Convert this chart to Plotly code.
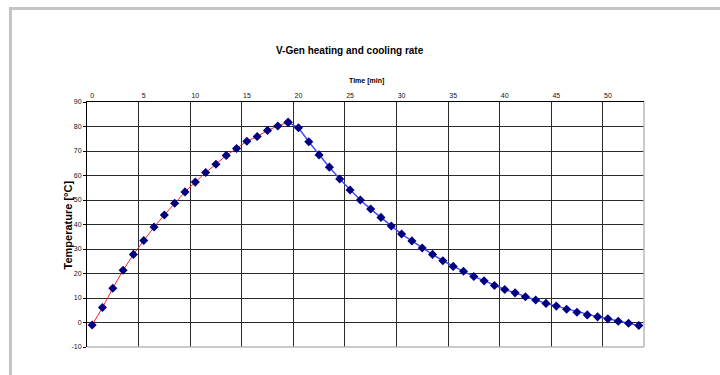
import plotly.graph_objects as go

# Sampling times [min]
heat_time = list(range(0, 20))
cool_time = list(range(19, 54))

# Measured temperatures [°C]
heat_temp = [-1.0, 6.1, 14.0, 21.3, 27.8, 33.5, 39.0, 43.9, 48.7, 53.3,
             57.3, 61.2, 64.6, 68.2, 71.0, 74.0, 75.9, 78.4, 80.2, 81.7]
cool_temp = [81.7, 79.5, 73.8, 68.4, 63.4, 58.6, 54.1, 50.0, 46.3, 42.9,
             39.4, 36.1, 33.3, 30.4, 27.8, 25.2, 22.9, 20.9, 18.8, 17.0,
             15.1, 13.5, 12.1, 10.5, 9.2, 7.8, 6.7, 5.4, 4.2, 3.1,
             2.3, 1.5, 0.5, -0.3, -1.2]

x_ticks = list(range(0, 51, 5))
x_bounds = [v - 0.5 for v in range(5, 51, 5)]
y_ticks = list(range(-10, 91, 10))

FONT = "Liberation Sans, Arial, sans-serif"
GRID = "#2a2a2a"
MARK = "#000080"
TICKFONT = dict(size=7, family=FONT, color="#111111")

fig = go.Figure()
fig.add_trace(go.Scatter(
    x=heat_time, y=heat_temp, mode="lines+markers",
    line=dict(color="#ff2020", width=1),
    marker=dict(symbol="diamond", size=7, color=MARK),
    showlegend=False, cliponaxis=False,
))
fig.add_trace(go.Scatter(
    x=cool_time, y=cool_temp, mode="lines+markers",
    line=dict(color="#4a4aff", width=1.5),
    marker=dict(symbol="diamond", size=7, color=MARK),
    showlegend=False, cliponaxis=False,
))

fig.update_layout(
    width=720, height=375,
    margin=dict(l=87, r=76, t=102, b=28),
    paper_bgcolor="white", plot_bgcolor="white",
    font=dict(family=FONT, color="#111111", size=7),
    xaxis=dict(
        side="top", range=[-0.5, 53.5], tickvals=x_ticks,
        ticktext=[str(v) for v in x_ticks],
        showgrid=False, zeroline=False, ticks="", ticklen=0,
        showline=True, linecolor="black", linewidth=1,
        tickfont=TICKFONT,
        minor=dict(tickvals=x_bounds, showgrid=True, gridcolor=GRID,
                   gridwidth=1, ticks=""),
        fixedrange=True,
    ),
    yaxis=dict(
        range=[-10, 90], tickvals=y_ticks,
        ticktext=[str(v) for v in y_ticks],
        showgrid=True, gridcolor=GRID, gridwidth=1,
        zeroline=False, ticks="outside", ticklen=3, tickcolor="black",
        showline=True, linecolor="black", linewidth=1,
        tickfont=TICKFONT,
    ),
    shapes=[
        # light frame on the right and bottom of the plot area
        dict(type="line", xref="paper", yref="paper", x0=1, x1=1, y0=0, y1=1,
             line=dict(color="#b8b8b8", width=1.5)),
        dict(type="line", xref="paper", yref="paper", x0=0, x1=1, y0=0, y1=0,
             line=dict(color="#b8b8b8", width=1.5)),
        # outer chart frame (left and top edges)
        dict(type="line", xref="paper", yref="paper",
             x0=-0.1374, x1=-0.1374, y0=-0.114, y1=1.3816,
             line=dict(color="#c4c4c4", width=3)),
        dict(type="line", xref="paper", yref="paper",
             x0=-0.1401, x1=1.137, y0=1.3816, y1=1.3816,
             line=dict(color="#c4c4c4", width=3)),
    ],
    annotations=[
        dict(text="<b>V-Gen heating and cooling rate</b>", xref="paper", yref="paper",
             x=0.4715, y=1.242, showarrow=False, font=dict(size=10, family=FONT, color="black")),
        dict(text="<b>Time [min]</b>", xref="paper", yref="paper",
             x=0.5024, y=1.109, showarrow=False, font=dict(size=7, family=FONT, color="black")),
        dict(text="<b>Temperature [°C]</b>", xref="paper", yref="paper",
             x=-0.0485, y=0.5, textangle=-90, showarrow=False,
             font=dict(size=11, family=FONT, color="black")),
    ],
)

fig.write_html(
    "out.html",
    post_script="document.body.style.margin='0';document.body.style.overflow='hidden';",
)
